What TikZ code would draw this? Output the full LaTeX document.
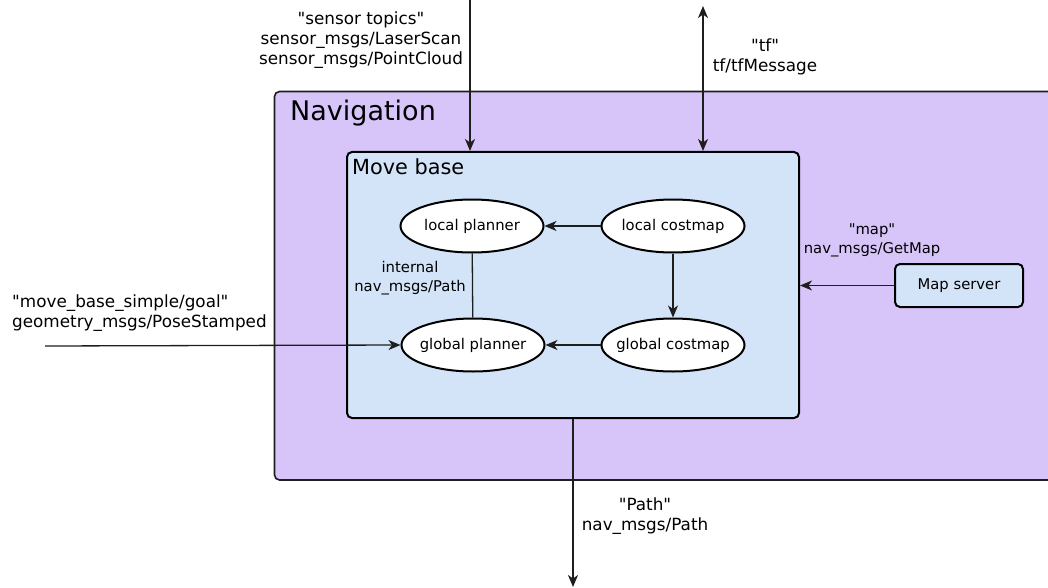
\documentclass[tikz,border=0pt]{standalone}
\usepackage{fontspec}
\setmainfont{DejaVu Sans}[Ligatures=TeXOff]
\usetikzlibrary{arrows.meta,shapes.geometric}

\definecolor{navfill}{RGB}{215,197,250}
\definecolor{basefill}{RGB}{211,228,248}
\definecolor{edgegray}{RGB}{30,30,30}

% zero-width centred text, so the ellipse size is set by its minimum size only
\newcommand{\ctext}[1]{\makebox[0pt]{#1}}

\tikzset{
  arr/.style={draw=edgegray, line width=1.3pt,
    -{Stealth[length=12pt,width=10pt,inset=3.5pt]}},
  biarr/.style={draw=edgegray, line width=1.3pt,
    {Stealth[length=12pt,width=10pt,inset=3.5pt]}-{Stealth[length=12pt,width=10pt,inset=3.5pt]}},
  plain/.style={draw=edgegray, line width=1.3pt},
  proc/.style={ellipse, draw=black, line width=2pt, fill=white,
    minimum width=143pt, minimum height=53pt, inner sep=0pt,
    font=\fontsize{14.8}{17}\selectfont},
  box/.style={rectangle, rounded corners=5pt, draw=black, line width=2pt,
    fill=basefill, inner sep=0pt},
  lbl/.style={align=center, inner sep=0pt,
    font=\fontsize{16.8}{20}\selectfont},
  smalllbl/.style={align=center, inner sep=0pt,
    font=\fontsize{14.8}{19}\selectfont},
}

\begin{document}
\begin{tikzpicture}[x=1pt,y=-1pt]
\useasboundingbox (0,0) rectangle (1048,588);
\clip (0,0) rectangle (1048,588);

% Navigation container (runs off the right edge)
\draw[fill=navfill, draw=edgegray, line width=1.6pt, rounded corners=5pt]
  (274.5,91.5) rectangle (1070,480);
\node[anchor=west, inner sep=0pt, font=\fontsize{27}{30}\selectfont]
  (navtitle) at (290,113) {Navigation};

% Move base
\node[box, minimum width=452pt, minimum height=266pt] (mb) at (573,285) {};
\node[anchor=west, inner sep=0pt, font=\fontsize{20.8}{24}\selectfont]
  (mbtitle) at (352,167) {Move base};

% Planners and costmaps
\node[proc] (lp) at (472,226) {\ctext{local planner}};
\node[proc] (lc) at (673,226) {\ctext{local costmap}};
\node[proc] (gp) at (473,345) {\ctext{global planner}};
\node[proc] (gc) at (673,345) {\ctext{global costmap}};

% Map server
\node[box, minimum width=128pt, minimum height=43pt,
  font=\fontsize{14.8}{17}\selectfont] (ms) at (959,285.5) {Map server};

% Free ends of the external connectors
\coordinate (sensortop) at (470,0);
\coordinate (tftop) at (703,6);
\coordinate (goalstart) at (45,346);
\coordinate (pathend) at (573,587);

% Connectors
\draw[arr] (sensortop) -- (sensortop |- mb.north);
\draw[biarr] (tftop) -- (tftop |- mb.north);
\draw[arr] (lc) -- (lp);
\draw[arr] (lc) -- (gc);
\draw[arr] (gc) -- (gp);
\draw[plain] (lp) -- (gp);
\draw[arr] (goalstart) -- (gp.west);
\draw[arr] (ms.west) -- (mb.east |- ms.west);
\draw[arr] (mb.south) -- (pathend);

% Labels
\node[lbl] (sensorlbl) at (361,40) {"sensor topics"\\sensor\_msgs/LaserScan\\sensor\_msgs/PointCloud};
\node[lbl] (tflbl) at (765,57) {"tf"\\tf/tfMessage};
\node[lbl, align=left, anchor=west] (goallbl) at (12,313) {"move\_base\_simple/goal"\\geometry\_msgs/PoseStamped};
\node[smalllbl] (internallbl) at (410,278) {internal\\nav\_msgs/Path};
\node[smalllbl] (maplbl) at (872,240) {"map"\\nav\_msgs/GetMap};
\node[lbl] (pathlbl) at (645,516) {"Path"\\nav\_msgs/Path};
\end{tikzpicture}
\end{document}
